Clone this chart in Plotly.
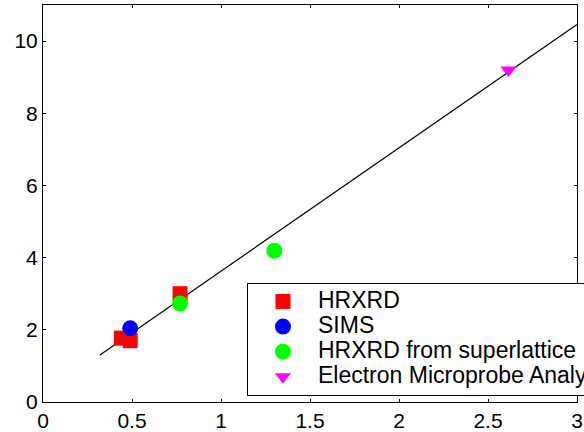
import plotly.graph_objects as go

hrxrd_x = [0.44, 0.49, 0.77]
hrxrd_y = [1.77, 1.70, 3.00]
sims_x = [0.49]
sims_y = [2.04]
sl_x = [0.77, 1.30]
sl_y = [2.73, 4.19]
emp_x = [2.615]
emp_y = [9.2]
fit_x = [0.32, 3.0]
fit_y = [1.30, 10.46]

def big(s):
    return '<span style="font-size:23px">' + s + '</span>'

fig = go.Figure()
fig.add_trace(go.Scatter(x=fit_x, y=fit_y, mode="lines", line=dict(color="black", width=1.2), showlegend=False))
fig.add_trace(go.Scatter(x=hrxrd_x, y=hrxrd_y, mode="markers", name=big("HRXRD"),
                         marker=dict(symbol="square", size=15, color="#ff0000")))
fig.add_trace(go.Scatter(x=sims_x, y=sims_y, mode="markers", name=big("SIMS"),
                         marker=dict(symbol="circle", size=16, color="#0000ff")))
fig.add_trace(go.Scatter(x=sl_x, y=sl_y, mode="markers", name=big("HRXRD from superlattice"),
                         marker=dict(symbol="circle", size=16, color="#00ff00")))
fig.add_trace(go.Scatter(x=emp_x, y=emp_y, mode="markers", name=big("Electron Microprobe Analysis"),
                         marker=dict(symbol="triangle-down", size=14, color="#ff00ff")))

axis_common = dict(showgrid=False, zeroline=False, showline=True, linecolor="black", linewidth=1,
                   mirror="ticks", ticks="inside", ticklen=3, tickcolor="black",
                   tickfont=dict(family="Liberation Sans, Arial", size=21, color="black"))
fig.update_xaxes(range=[0, 3], tickvals=[0, 0.5, 1, 1.5, 2, 2.5, 3],
                 ticktext=["0", "0.5", "1", "1.5", "2", "2.5", "3"], **axis_common)
fig.update_yaxes(range=[0, 11], tickvals=[0, 2, 4, 6, 8, 10],
                 ticktext=["0", "2", "4", "6", "8", "10"], **axis_common)

fig.update_layout(
    width=584, height=432,
    margin=dict(l=43, r=7, t=5, b=30, autoexpand=False),
    plot_bgcolor="white", paper_bgcolor="white",
    font=dict(family="Liberation Sans, Arial", size=21, color="black"),
    legend=dict(x=0.382, y=0.300, xanchor="left", yanchor="top",
                bgcolor="white", bordercolor="black", borderwidth=1,
                itemwidth=60, tracegroupgap=0,
                font=dict(family="Liberation Sans, Arial", size=17, color="black")),
)
fig.write_html("out.html")
